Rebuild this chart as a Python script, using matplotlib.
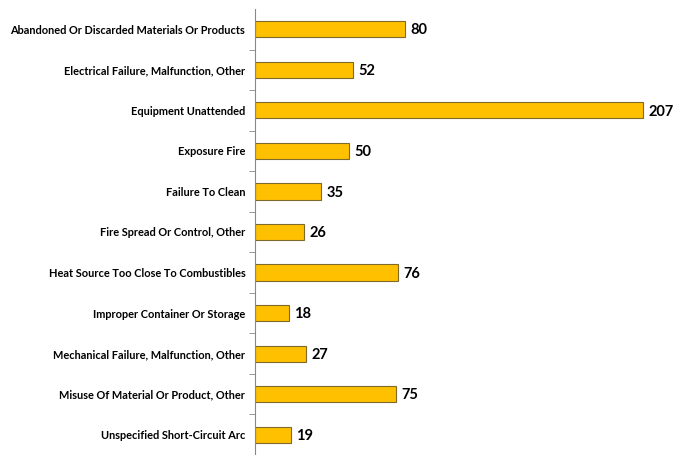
import numpy as np
import matplotlib.pyplot as plt

categories = ["Abandoned Or Discarded Materials Or Products",
              "Electrical Failure, Malfunction, Other",
              "Equipment Unattended",
              "Exposure Fire",
              "Failure To Clean",
              "Fire Spread Or Control, Other",
              "Heat Source Too Close To Combustibles",
              "Improper Container Or Storage",
              "Mechanical Failure, Malfunction, Other",
              "Misuse Of Material Or Product, Other",
              "Unspecified Short-Circuit Arc"]
counts = [80, 52, 207, 50, 35, 26, 76, 18, 27, 75, 19]

fig = plt.figure(figsize=(6.87, 4.55), dpi=100)
ax = fig.add_axes([255 / 687, 0.0, 405 / 687, 446 / 455])

y = np.arange(len(categories))
ax.barh(y, counts, height=0.4, color="#FFC000", edgecolor="#7F6A2A", linewidth=0.8)

for yi, c in zip(y, counts):
    ax.text(c + 3, yi + 0.03, str(c), va="center", ha="left",
            fontsize=10.5, fontweight="bold", family="Lato")

ax.set_xlim(0, 216)
ax.set_ylim(10.4, -0.5)
ax.set_yticks(y)
ax.set_yticklabels(categories, fontsize=7.9, fontweight="bold", family="Lato")
ax.set_yticks(np.arange(len(categories)) + 0.5, minor=True)
ax.tick_params(axis="y", which="major", length=0, pad=7)
ax.tick_params(axis="y", which="minor", length=4, color="#888888")
ax.set_xticks([])
for s in ["top", "right", "bottom"]:
    ax.spines[s].set_visible(False)
ax.spines["left"].set_color("#888888")

fig.savefig("out.png", dpi=100)
